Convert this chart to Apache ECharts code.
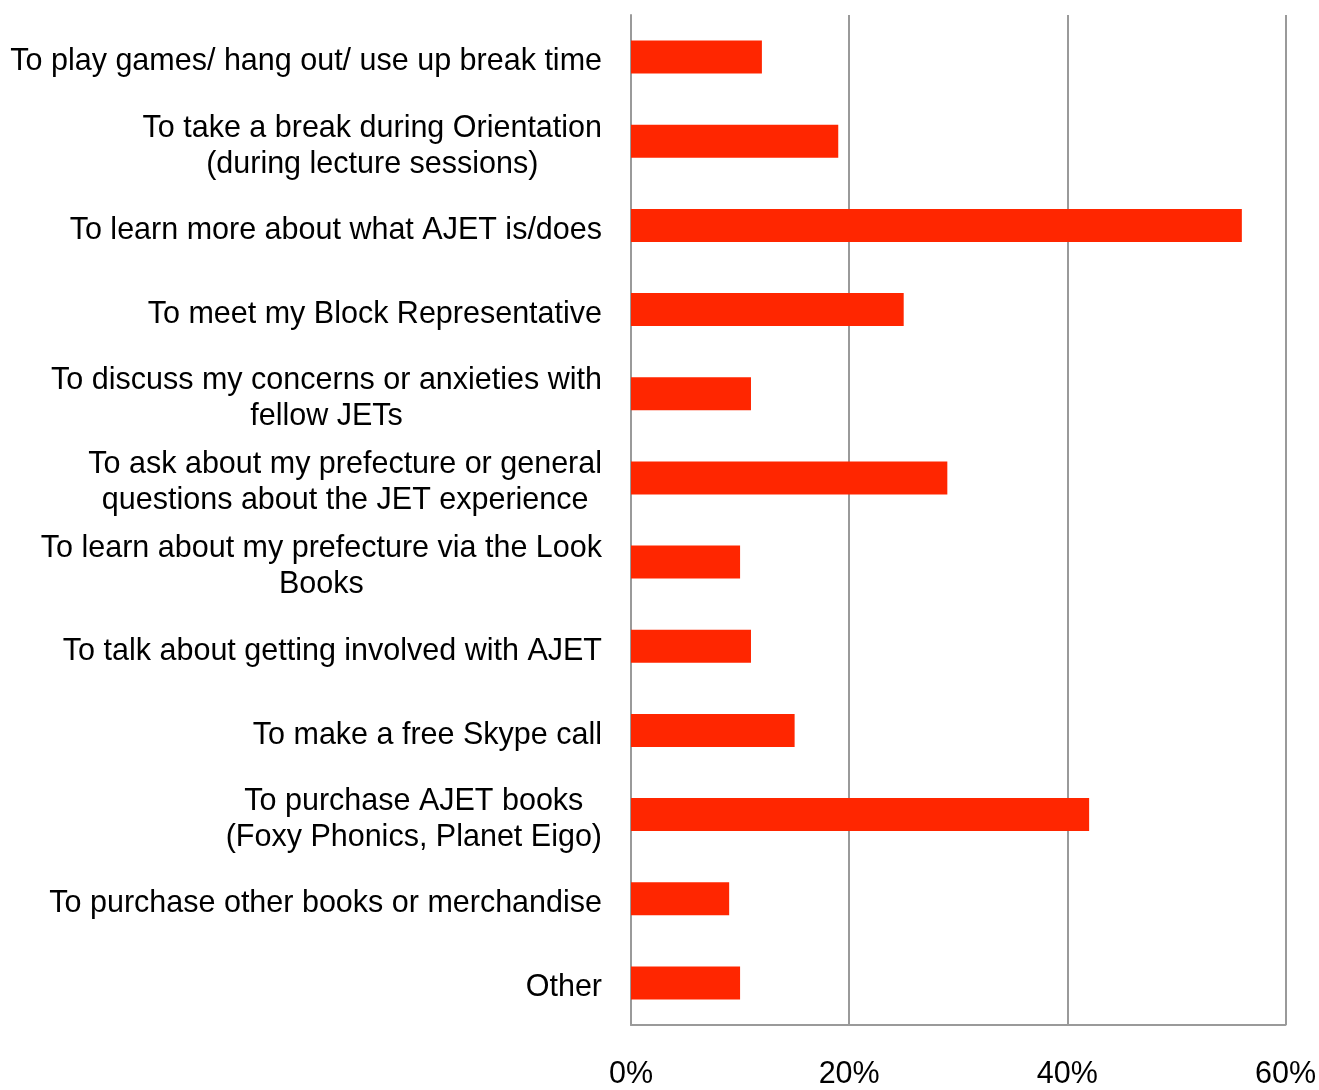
<!DOCTYPE html>
<html><head><meta charset="utf-8">
<script src="https://cdn.jsdelivr.net/npm/echarts@6/dist/echarts.min.js"></script>
<style>html,body{margin:0;padding:0;background:#fff}#c{width:1319px;height:1090px}</style>
</head><body><div id="c"></div>
<script>
const categories = [
  "To play games/ hang out/ use up break time",
  "To take a break during Orientation\n(during lecture sessions)",
  "To learn more about what AJET is/does",
  "To meet my Block Representative",
  "To discuss my concerns or anxieties with\nfellow JETs",
  "To ask about my prefecture or general\nquestions about the JET experience",
  "To learn about my prefecture via the Look\nBooks",
  "To talk about getting involved with AJET",
  "To make a free Skype call",
  "To purchase AJET books\n(Foxy Phonics, Planet Eigo)",
  "To purchase other books or merchandise",
  "Other"
];
const values = [12, 19, 56, 25, 11, 29, 10, 11, 15, 42, 9, 10];
const xTicks = { min: 0, max: 60, interval: 20 };

const chart = echarts.init(document.getElementById('c'));
const FONT = '"Liberation Sans", Arial, Helvetica, sans-serif';
const FS = 30.5;
chart.setOption({
  animation: false,
  grid: { left: 631, right: 33, top: 15, bottom: 61, containLabel: false },
  xAxis: {
    type: 'value', min: xTicks.min, max: xTicks.max, interval: xTicks.interval,
    axisLine: { show: true, lineStyle: { color: '#9a9a9a', width: 2 } },
    axisTick: { show: false },
    splitLine: { show: true, lineStyle: { color: '#9a9a9a', width: 2 } },
    axisLabel: { formatter: '{value}%', color: '#000', fontSize: FS, fontFamily: FONT, margin: 34 }
  },
  yAxis: {
    type: 'category', data: categories, inverse: true,
    axisLine: { show: true, lineStyle: { color: '#9a9a9a', width: 2 } },
    axisTick: { show: false },
    axisLabel: {
      margin: 29, color: '#000', fontSize: FS, fontFamily: FONT, lineHeight: 36,
      padding: [10, 0, 0, 0],
      formatter: function (v) {
        return v.split('\n').map(function (l) { return '{c|' + l + '}'; }).join('\n');
      },
      rich: { c: { align: 'center', fontSize: FS, fontFamily: FONT, color: '#000', lineHeight: 36 } }
    }
  },
  series: [{
    type: 'bar', data: values, barWidth: 33,
    itemStyle: { color: '#ff2600' }
  }]
});
</script></body></html>
